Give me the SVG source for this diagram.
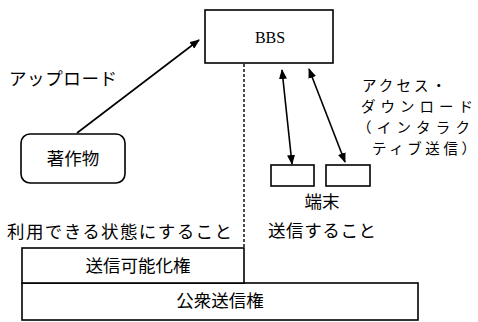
<svg xmlns="http://www.w3.org/2000/svg" width="478" height="322" viewBox="0 0 478 322">
<style>
.box{fill:#fff;stroke:#000;stroke-width:1.6}
.t{font-family:"Noto Sans CJK JP","Liberation Sans",sans-serif;font-size:17.5px;fill:#000}
.s{font-size:14.5px}
.c{text-anchor:middle}
.ln{stroke:#000;stroke-width:1.6;fill:none}
</style>
<defs>
<marker id="ah" markerWidth="10" markerHeight="8" refX="9" refY="4" orient="auto-start-reverse" markerUnits="userSpaceOnUse">
<path d="M0,0 L10,4 L0,8 Z" fill="#000"/>
</marker>
</defs>
<g id="bbs">
<rect class="box" x="205" y="10" width="128" height="53"/>
<text x="270" y="43" font-family="Liberation Serif,serif" font-size="16" text-anchor="middle">BBS</text>
</g>
<g id="work">
<rect class="box" x="21" y="134" width="104" height="49" rx="9"/>
<text class="t c" x="73" y="165">著作物</text>
</g>
<g id="term1"><rect class="box" x="271" y="165" width="43" height="21"/></g>
<g id="term2"><rect class="box" x="326" y="165" width="44" height="21"/></g>
<g id="rights">
<rect class="box" x="22" y="283" width="396" height="37"/>
<text class="t c" x="220" y="307">公衆送信権</text>
<rect class="box" x="22" y="248" width="222" height="35"/>
<text class="t c" x="138" y="272">送信可能化権</text>
</g>
<g id="connectors">
<line class="ln" x1="77" y1="133" x2="199" y2="40" marker-end="url(#ah)"/>
<line class="ln" x1="282" y1="70" x2="292" y2="164" marker-start="url(#ah)" marker-end="url(#ah)"/>
<line class="ln" x1="309" y1="69" x2="345" y2="162" marker-start="url(#ah)" marker-end="url(#ah)"/>
<line x1="244" y1="64" x2="244" y2="248" stroke="#000" stroke-width="1.4" stroke-dasharray="3 2"/>
</g>
<g id="labels">
<text class="t" x="9" y="85" textLength="108">アップロード</text>
<text class="t s" x="362" y="91" textLength="84">アクセス・</text>
<text class="t s" x="361" y="112" textLength="112">ダウンロード</text>
<text class="t s" x="357" y="133" textLength="113">（インタラク</text>
<text class="t s" x="372" y="154" textLength="104">ティブ送信）</text>
<text class="t c" x="322" y="208">端末</text>
<text class="t" x="268" y="237" textLength="108">送信すること</text>
<text class="t" x="7" y="238" textLength="225">利用できる状態にすること</text>
</g>
</svg>
